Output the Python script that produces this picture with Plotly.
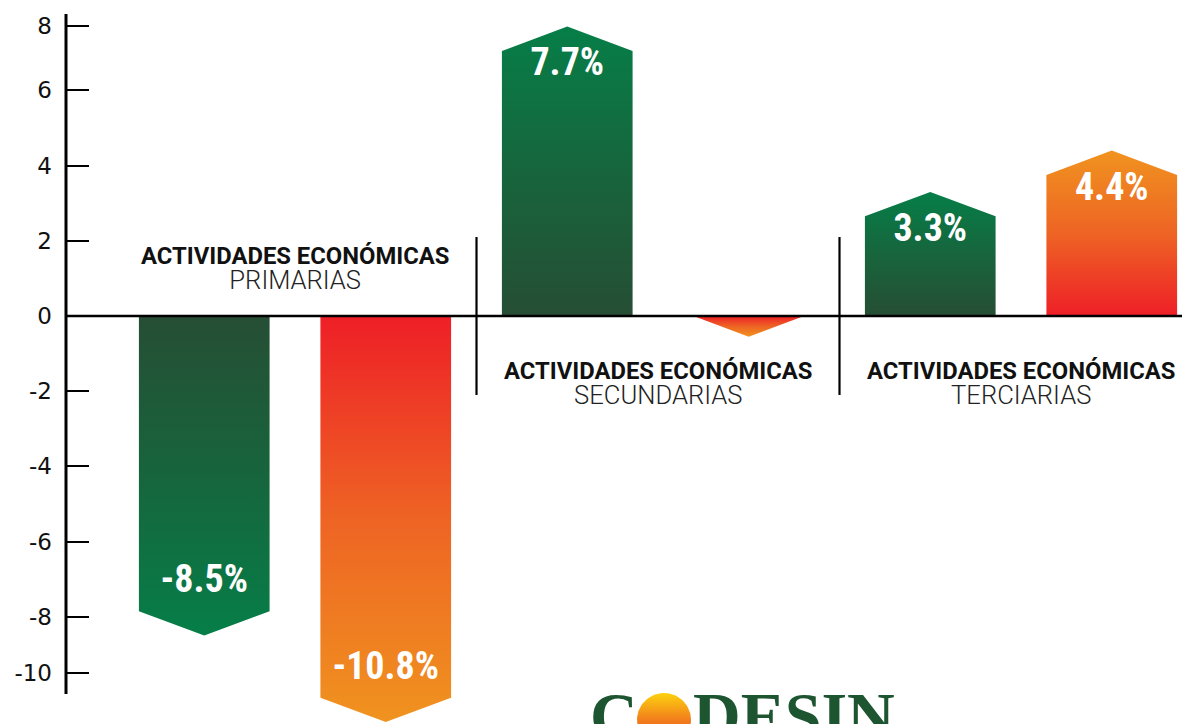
import numpy as np
import plotly.graph_objects as go

# ---------------- data ----------------
GROUPS = ["PRIMARIAS", "SECUNDARIAS", "TERCIARIAS"]
GROUP_TITLE = "ACTIVIDADES ECONÓMICAS"
SERIES_GREEN = [-8.5, 7.7, 3.3]
SERIES_ORANGE = [-10.8, -0.55, 4.4]
SHOW_GREEN = [True, True, True]
SHOW_ORANGE = [True, False, True]
TICK_LABELS = ["8", "6", "4", "2", "0", "-2", "-4", "-6", "-8", "-10"]
TICK_POS = [7.72, 6, 4, 2, 0, -2, -4, -6, -8, -9.49]

# ---------------- style / layout ----------------
W, H = 1190, 724
PAD = 8                      # page body margin offset
PX_X, PX_Y = 363.0, 37.6     # pixels per data unit
G0_PX, ZERO_PX = 295 - PAD, 316 - PAD
X_RANGE = [-G0_PX / PX_X, (W - G0_PX) / PX_X]
Y_RANGE = [(ZERO_PX - H) / PX_Y, ZERO_PX / PX_Y]
AXIS_X = (66 - PAD) / W
BAR_W = 0.36
HEAD = 0.65
OFFSET = 0.25
NARROW = "Liberation Sans Narrow, Roboto Condensed, Arial Narrow, sans-serif"

GREEN_DARK, GREEN_MID, GREEN_BRIGHT = "#264e34", "#17653d", "#067e48"
RED, ORANGE_MID, ORANGE = "#ee1f27", "#ee6424", "#f0931f"


def arrow(xc, v):
    s = np.sign(v)
    if abs(v) > HEAD:
        body = v - s * HEAD
        xs = [xc - BAR_W / 2, xc - BAR_W / 2, xc, xc + BAR_W / 2, xc + BAR_W / 2, xc - BAR_W / 2]
        ys = [0, body, v, body, 0, 0]
    else:
        f = abs(v) / HEAD
        xs = [xc - BAR_W / 2 * f, xc, xc + BAR_W / 2 * f, xc - BAR_W / 2 * f]
        ys = [0, v, 0, 0]
    return xs, ys


def grad(v, near, mid, far):
    if v >= 0:
        return [[0, near], [0.5, mid], [1, far]]
    return [[0, far], [0.5, mid], [1, near]]


fig = go.Figure()

lab_x, lab_y, lab_t = [], [], []
for g in range(len(GROUPS)):
    for v, show, off, cols in [
        (SERIES_GREEN[g], SHOW_GREEN[g], -OFFSET, (GREEN_DARK, GREEN_MID, GREEN_BRIGHT)),
        (SERIES_ORANGE[g], SHOW_ORANGE[g], OFFSET, (RED, ORANGE_MID, ORANGE)),
    ]:
        xc = g + off
        xs, ys = arrow(xc, v)
        fig.add_trace(go.Scatter(
            x=xs, y=ys, mode="lines", fill="toself", line=dict(width=0),
            fillgradient=dict(type="vertical", colorscale=grad(v, *cols)),
            hoverinfo="skip", showlegend=False,
        ))
        if show:
            lab_x.append(xc)
            lab_y.append(v - 1.05 if v > 0 else v + 1.4)
            lab_t.append(f"{v:.1f}%")

fig.add_trace(go.Scatter(
    x=lab_x, y=lab_y, text=lab_t, mode="text",
    textfont=dict(family=NARROW, size=38, color="white", weight="bold"),
    hoverinfo="skip", showlegend=False,
))

# logo sun (decorative)
t = np.linspace(0, 2 * np.pi, 90)
cx, cy, r_px = (664 - PAD - G0_PX) / PX_X, (ZERO_PX - (720 - PAD)) / PX_Y, 27
fig.add_trace(go.Scatter(
    x=cx + r_px / PX_X * np.cos(t), y=cy + r_px / PX_Y * np.sin(t),
    mode="lines", fill="toself", line=dict(width=0),
    fillgradient=dict(type="vertical", colorscale=[[0, "#e8401f"], [0.5, "#f27e1c"], [1, "#fcd20e"]]),
    hoverinfo="skip", showlegend=False,
))

shapes = []
shapes.append(dict(type="line", xref="paper", yref="y", x0=AXIS_X, x1=AXIS_X, y0=8.03, y1=-10.05,
                   line=dict(color="black", width=3)))
shapes.append(dict(type="line", xref="paper", yref="y", x0=AXIS_X, x1=1, y0=0, y1=0,
                   line=dict(color="black", width=2.5), layer="above"))
for g in range(len(GROUPS) - 1):
    shapes.append(dict(type="line", xref="x", yref="y", x0=g + 0.5, x1=g + 0.5, y0=2.1, y1=-2.1,
                       line=dict(color="black", width=2.2)))

annotations = []
for g, name in enumerate(GROUPS):
    neg = (SERIES_GREEN[g] + SERIES_ORANGE[g]) < 0
    shift = 47.5 if neg else -67
    txt = (f'<span style="font-size:23.8px;font-weight:bold;color:#111">{GROUP_TITLE}</span><br>'
           f'<span style="font-size:25.6px;font-weight:300;color:#222">{name}</span>')
    annotations.append(dict(x=g, y=0, xref="x", yref="y", yshift=shift, text=txt, showarrow=False,
                            align="center", font=dict(family="Roboto", size=19.3, color="#111")))

LOGO_FONT = dict(family="Liberation Serif, DejaVu Serif, serif", size=66, color="#1d5530", weight="bold")
LOGO_TOP = 1 - (693 - PAD - 16) / H
annotations.append(dict(x=(614 - PAD) / W, y=LOGO_TOP, xref="paper", yref="paper", xanchor="center",
                        yanchor="top", text="C", showarrow=False, font=LOGO_FONT))
annotations.append(dict(x=(691 - PAD) / W, y=LOGO_TOP, xref="paper", yref="paper", xanchor="left",
                        yanchor="top", text="DESIN", showarrow=False, font=LOGO_FONT))

fig.update_layout(
    width=W, height=H, margin=dict(l=0, r=0, t=0, b=0),
    paper_bgcolor="white", plot_bgcolor="white",
    xaxis=dict(range=X_RANGE, visible=False, fixedrange=True),
    yaxis=dict(range=Y_RANGE, anchor="free", position=AXIS_X, showgrid=False, zeroline=False,
               showline=False, ticks="inside", ticklen=22, tickwidth=2, tickcolor="black",
               tickvals=TICK_POS, ticktext=TICK_LABELS, ticklabelstandoff=14,
               tickfont=dict(family="DejaVu Sans", size=23, color="#111")),
    shapes=shapes, annotations=annotations,
)

fig.write_html("out.html")
